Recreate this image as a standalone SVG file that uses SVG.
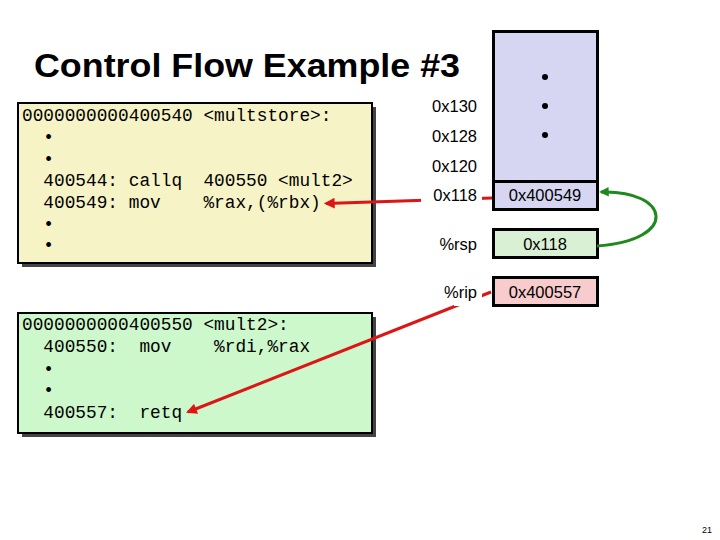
<svg xmlns="http://www.w3.org/2000/svg" width="720" height="540" viewBox="0 0 720 540">
<style>
.code{font-family:"Liberation Mono","Courier New",monospace;font-size:17.8px;fill:#000;white-space:pre}
.lbl{font-family:"Liberation Sans",Arial,sans-serif;font-size:16.5px;fill:#000}
.r{text-anchor:end}
.c{text-anchor:middle}
.box{stroke:#000;stroke-width:2}
.shadow{fill:#444}
.cell{stroke:#000;stroke-width:3}
.red{stroke:#DD1515;stroke-width:3;fill:none}
.grn{stroke:#1E8A1E;stroke-width:3;fill:none}
</style>
<defs>
<marker id="ar" viewBox="0 0 10 10" refX="8" refY="5" markerWidth="4.2" markerHeight="3.6" orient="auto" markerUnits="strokeWidth">
<path d="M0,0 L10,5 L0,10 Z" fill="#DD1515"/>
</marker>
<marker id="ag" viewBox="0 0 10 10" refX="8" refY="5" markerWidth="3.6" markerHeight="3.2" orient="auto" markerUnits="strokeWidth">
<path d="M0,0 L10,5 L0,10 Z" fill="#1E8A1E"/>
</marker>
</defs>
<rect width="720" height="540" fill="#fff"/>
<text x="34" y="77" font-family="Liberation Sans,Arial,sans-serif" font-weight="bold" font-size="34" textLength="426" lengthAdjust="spacingAndGlyphs">Control Flow Example #3</text>

<g id="multstore">
<rect class="shadow" x="22" y="107" width="354" height="160"/>
<rect class="box" x="18" y="103" width="354" height="160" fill="#F6F3C6"/>
<text class="code" x="22" y="121" xml:space="preserve">0000000000400540 &lt;multstore&gt;:</text>
<text class="code" x="22" y="143" xml:space="preserve">  •</text>
<text class="code" x="22" y="164.5" xml:space="preserve">  •</text>
<text class="code" x="22" y="186" xml:space="preserve">  400544: callq  400550 &lt;mult2&gt;</text>
<text class="code" x="22" y="208" xml:space="preserve">  400549: mov    %rax,(%rbx)</text>
<text class="code" x="22" y="229.5" xml:space="preserve">  •</text>
<text class="code" x="22" y="251" xml:space="preserve">  •</text>
</g>

<g id="mult2">
<rect class="shadow" x="22" y="317" width="354" height="120"/>
<rect class="box" x="18" y="313" width="354" height="120" fill="#CCF8CC"/>
<text class="code" x="22" y="330" xml:space="preserve">0000000000400550 &lt;mult2&gt;:</text>
<text class="code" x="22" y="352" xml:space="preserve">  400550:  mov    %rdi,%rax</text>
<text class="code" x="22" y="375" xml:space="preserve">  •</text>
<text class="code" x="22" y="396" xml:space="preserve">  •</text>
<text class="code" x="22" y="418" xml:space="preserve">  400557:  retq</text>
</g>

<g id="stack">
<rect class="cell" x="493.5" y="31.5" width="104" height="178" fill="#D6D6F2"/>
<line x1="493.5" y1="181.5" x2="597.5" y2="181.5" stroke="#000" stroke-width="3"/>
<circle cx="545" cy="77" r="3" fill="#000"/>
<circle cx="545" cy="106" r="3" fill="#000"/>
<circle cx="545" cy="135" r="3" fill="#000"/>
<text class="lbl c" x="545" y="201">0x400549</text>
<text class="lbl r" x="477" y="112">0x130</text>
<text class="lbl r" x="477" y="142">0x128</text>
<text class="lbl r" x="477" y="172">0x120</text>
</g>

<g id="rsp">
<rect class="cell" x="493.5" y="229.5" width="104" height="28" fill="#DAF0D4"/>
<text class="lbl c" x="545" y="250">0x118</text>
<text class="lbl r" x="477" y="250">%rsp</text>
</g>

<g id="rip">
<rect class="cell" x="493.5" y="277.5" width="104" height="28" fill="#F8CCCC"/>
<text class="lbl c" x="545" y="298">0x400557</text>
</g>

<g id="connectors">
<line class="red" x1="492" y1="198" x2="326" y2="203.5" marker-end="url(#ar)"/>
<line class="red" x1="491" y1="292" x2="188" y2="412" marker-end="url(#ar)"/>
<path class="grn" d="M597,246 C680,240 670,190 601,192" marker-end="url(#ag)"/>
</g>

<g id="label-0x118">
<rect x="421" y="185" width="61" height="22" fill="#fff"/>
<text class="lbl r" x="477" y="201">0x118</text>
</g>
<g id="label-rip">
<rect x="454" y="282" width="28" height="24" fill="#fff"/>
<text class="lbl r" x="477" y="298">%rip</text>
</g>

<text x="712" y="533" font-family="Liberation Sans,Arial,sans-serif" font-size="9" text-anchor="end">21</text>
</svg>
